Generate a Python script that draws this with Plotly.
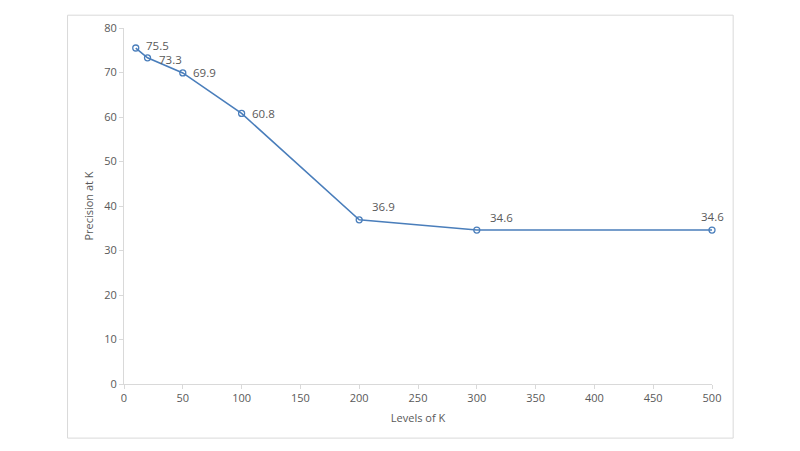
import plotly.graph_objects as go

# Daten
levels_k = [10, 20, 50, 100, 200, 300, 500]
precision = [75.5, 73.3, 69.9, 60.8, 36.9, 34.6, 34.6]

grey = '#595959'
fig = go.Figure()
fig.add_trace(go.Scatter(
    x=levels_k,
    y=precision,
    mode='lines+markers',
    line=dict(color='#4a7ebb', width=1.6),
    marker=dict(symbol='circle-open', size=6, color='#4a7ebb', line=dict(width=1.3)),
    cliponaxis=False,
    showlegend=False))

# Datenbeschriftungen (rechts bzw. oben), die ersten beiden leicht auseinandergezogen
for i, (k, p) in enumerate(zip(levels_k, precision)):
    if i == 0:
        pos = dict(xanchor='left', yanchor='middle', xshift=8, yshift=3)
    elif i == 1:
        pos = dict(xanchor='left', yanchor='middle', xshift=9, yshift=-2)
    elif i < 4:
        pos = dict(xanchor='left', yanchor='middle', xshift=8, yshift=0)
    elif i < 6:
        pos = dict(xanchor='left', yanchor='middle', xshift=11, yshift=13)
    else:
        pos = dict(xanchor='center', yanchor='middle', xshift=0, yshift=14)
    fig.add_annotation(x=k, y=p, text=f'{p:.1f}', showarrow=False,
                       font=dict(family='Open Sans', size=11.5, color=grey), **pos)

axis_common = dict(showgrid=False, zeroline=False, showline=True,
                   linecolor='#d9d9d9', linewidth=1,
                   ticks='outside', ticklen=4, tickcolor='#d9d9d9',
                   tickfont=dict(family='Open Sans', size=11, color=grey))
fig.update_xaxes(range=[0, 500], dtick=50, title_text='Levels of K',
                 title_font=dict(family='Open Sans', size=11, color=grey),
                 title_standoff=10, **axis_common)
fig.update_yaxes(range=[0, 80], dtick=10, title_text='Precision at K',
                 title_font=dict(family='Open Sans', size=11, color=grey),
                 title_standoff=8, **axis_common)

# Rahmen um den Diagrammbereich
fig.add_shape(type='rect', xref='paper', yref='paper',
              x0=-0.096, x1=1.036, y0=-0.152, y1=1.036,
              line=dict(color='#d9d9d9', width=1))

fig.update_layout(
    width=784, height=435,
    margin=dict(l=116, r=80, t=13, b=59),
    plot_bgcolor='white', paper_bgcolor='white',
)
fig.write_html('out.html')
